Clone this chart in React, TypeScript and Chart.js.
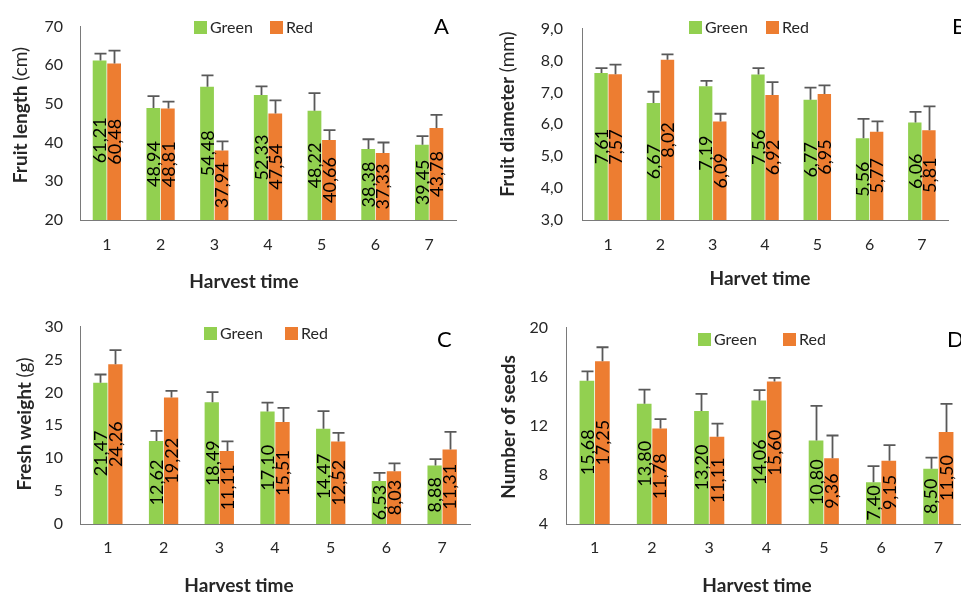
import React, { useEffect, useRef } from "react";
import { Chart, registerables } from "chart.js";

Chart.register(...registerables);

// ---------- data ----------
const harvestTimes = ["1", "2", "3", "4", "5", "6", "7"];
const seriesNames = ["Green", "Red"];

const lengthGreen = [61.21, 48.94, 54.48, 52.33, 48.22, 38.38, 39.45];
const lengthRed = [60.48, 48.81, 37.94, 47.54, 40.66, 37.33, 43.78];
const lengthGreenErr = [1.8, 3.1, 2.9, 2.2, 4.6, 2.5, 2.25];
const lengthRedErr = [3.3, 1.8, 2.4, 3.4, 2.6, 2.7, 3.4];

const diameterGreen = [7.61, 6.67, 7.19, 7.56, 6.77, 5.56, 6.06];
const diameterRed = [7.57, 8.02, 6.09, 6.92, 6.95, 5.77, 5.81];
const diameterGreenErr = [0.15, 0.35, 0.17, 0.2, 0.38, 0.61, 0.33];
const diameterRedErr = [0.3, 0.17, 0.24, 0.4, 0.27, 0.32, 0.75];

const weightGreen = [21.47, 12.62, 18.49, 17.1, 14.47, 6.53, 8.88];
const weightRed = [24.26, 19.22, 11.11, 15.51, 12.52, 8.03, 11.31];
const weightGreenErr = [1.25, 1.53, 1.54, 1.34, 2.67, 1.25, 0.99];
const weightRedErr = [2.15, 1.0, 1.45, 2.13, 1.33, 1.19, 2.69];

const seedsGreen = [15.68, 13.8, 13.2, 14.06, 10.8, 7.4, 8.5];
const seedsRed = [17.25, 11.78, 11.11, 15.6, 9.36, 9.15, 11.5];
const seedsGreenErr = [0.75, 1.14, 1.4, 0.85, 2.83, 1.32, 0.9];
const seedsRedErr = [1.15, 0.77, 1.07, 0.31, 1.85, 1.28, 2.28];

// ---------- style ----------
const FONT = "Lato, 'Open Sans', sans-serif";
const GREEN = "#92D050";
const ORANGE = "#ED7D31";
const ERR = "#595959";
const AXIS = "#7a7a7a";
const TEXT = "#262626";

type Panel = {
  letter: string;
  left: number;
  top: number;
  width: number;
  height: number;
  area: { left: number; right: number; top: number; bottom: number };
  min: number;
  max: number;
  step: number;
  tickDecimals: number;
  green: number[];
  red: number[];
  greenErr: number[];
  redErr: number[];
  yTitleBold: string;
  yTitleRegular: string;
  yTitleX: number;
  yTitleY: number;
  xTitle: string;
  xTitleX: number;
  xTitleY: number;
  xTickPad: number;
  yTickPad: number;
  letterX: number;
  letterY: number;
  legendBoxes: number[];
  legendY: number;
};

const panels: Panel[] = [
  {
    letter: "A", left: 0, top: 0, width: 480, height: 300,
    area: { left: 80, right: 456, top: 25, bottom: 220 },
    min: 20, max: 70, step: 10, tickDecimals: 0,
    green: lengthGreen, red: lengthRed, greenErr: lengthGreenErr, redErr: lengthRedErr,
    yTitleBold: "Fruit length ", yTitleRegular: "(cm)", yTitleX: 21, yTitleY: 115,
    xTitle: "Harvest time", xTitleX: 244, xTitleY: 282,
    xTickPad: 15, yTickPad: 17, letterX: 434, letterY: 27,
    legendBoxes: [194, 270], legendY: 27,
  },
  {
    letter: "B", left: 480, top: 0, width: 481, height: 300,
    area: { left: 102, right: 468, top: 26, bottom: 220 },
    min: 3, max: 9, step: 1, tickDecimals: 1,
    green: diameterGreen, red: diameterRed, greenErr: diameterGreenErr, redErr: diameterRedErr,
    yTitleBold: "Fruit diameter ", yTitleRegular: "(mm)", yTitleX: 28, yTitleY: 114,
    xTitle: "Harvet time", xTitleX: 280, xTitleY: 279,
    xTickPad: 15, yTickPad: 19, letterX: 472, letterY: 27,
    legendBoxes: [209, 286], legendY: 27,
  },
  {
    letter: "C", left: 0, top: 300, width: 480, height: 300,
    area: { left: 80, right: 470, top: 23, bottom: 224 },
    min: 0, max: 30, step: 5, tickDecimals: 0,
    green: weightGreen, red: weightRed, greenErr: weightGreenErr, redErr: weightRedErr,
    yTitleBold: "Fresh weight ", yTitleRegular: "(g)", yTitleX: 25, yTitleY: 124,
    xTitle: "Harvest time", xTitleX: 239, xTitleY: 286,
    xTickPad: 14, yTickPad: 17, letterX: 437, letterY: 40,
    legendBoxes: [204, 285], legendY: 33,
  },
  {
    letter: "D", left: 480, top: 300, width: 500, height: 300,
    area: { left: 86, right: 487, top: 21, bottom: 224 },
    min: 4, max: 20, step: 4, tickDecimals: 0,
    green: seedsGreen, red: seedsRed, greenErr: seedsGreenErr, redErr: seedsRedErr,
    yTitleBold: "Number of seeds", yTitleRegular: "", yTitleX: 29, yTitleY: 127,
    xTitle: "Harvest time", xTitleX: 277, xTitleY: 286,
    xTickPad: 14, yTickPad: 18, letterX: 467, letterY: 40,
    legendBoxes: [218, 303], legendY: 39,
  },
];

const fmt = (v: number, d: number) => v.toFixed(d).replace(".", ",");

function PanelChart({ p }: { p: Panel }) {
  const ref = useRef<HTMLCanvasElement | null>(null);

  useEffect(() => {
    if (!ref.current) return;
    const errs = [p.greenErr, p.redErr];
    const colors = [GREEN, ORANGE];

    const decor = {
      id: "decor" + p.letter,
      afterDatasetsDraw(chart: any) {
        const ctx = chart.ctx as CanvasRenderingContext2D;
        const yScale = chart.scales.y;
        const bottom = chart.chartArea.bottom;
        // error bars
        ctx.save();
        ctx.strokeStyle = ERR;
        ctx.lineWidth = 1.8;
        chart.data.datasets.forEach((ds: any, i: number) => {
          const meta = chart.getDatasetMeta(i);
          meta.data.forEach((el: any, j: number) => {
            const v = ds.data[j];
            const yt = yScale.getPixelForValue(v + errs[i][j]);
            const x = Math.round(el.x) + 0.5;
            ctx.beginPath();
            ctx.moveTo(x, el.y);
            ctx.lineTo(x, yt);
            ctx.moveTo(x - 6, yt);
            ctx.lineTo(x + 6, yt);
            ctx.stroke();
          });
        });
        ctx.restore();
        // data labels
        ctx.save();
        ctx.fillStyle = "#000";
        ctx.font = `18px ${FONT}`;
        ctx.textAlign = "center";
        ctx.textBaseline = "middle";
        chart.data.datasets.forEach((ds: any, i: number) => {
          const meta = chart.getDatasetMeta(i);
          meta.data.forEach((el: any, j: number) => {
            const { x, y, base } = el.getProps(["x", "y", "base"], true);
            const b = Math.min(base, bottom);
            ctx.save();
            ctx.translate(x, (y + b) / 2);
            ctx.rotate(-Math.PI / 2);
            ctx.fillText(fmt(ds.data[j], 2), 0, 1);
            ctx.restore();
          });
        });
        ctx.restore();
      },
      afterDraw(chart: any) {
        const ctx = chart.ctx as CanvasRenderingContext2D;
        ctx.save();
        // y title (bold + regular parts)
        ctx.fillStyle = TEXT;
        ctx.textBaseline = "middle";
        ctx.textAlign = "left";
        const boldFont = `bold 19px ${FONT}`;
        const regFont = `19px ${FONT}`;
        ctx.font = boldFont;
        const wb = ctx.measureText(p.yTitleBold).width;
        ctx.font = regFont;
        const wr = p.yTitleRegular ? ctx.measureText(p.yTitleRegular).width : 0;
        const total = wb + wr;
        ctx.save();
        ctx.translate(p.yTitleX, p.yTitleY);
        ctx.rotate(-Math.PI / 2);
        ctx.font = boldFont;
        ctx.fillText(p.yTitleBold, -total / 2, 0);
        if (p.yTitleRegular) {
          ctx.font = regFont;
          ctx.fillText(p.yTitleRegular, -total / 2 + wb, 0);
        }
        ctx.restore();
        // x title
        ctx.font = boldFont;
        ctx.textAlign = "center";
        ctx.fillText(p.xTitle, p.xTitleX, p.xTitleY);
        // panel letter
        ctx.font = `22px ${FONT}`;
        ctx.textAlign = "left";
        ctx.fillStyle = "#000";
        ctx.fillText(p.letter, p.letterX, p.letterY);
        // legend
        ctx.font = `16px ${FONT}`;
        seriesNames.forEach((name, i) => {
          const bx = p.legendBoxes[i];
          ctx.fillStyle = colors[i];
          ctx.fillRect(bx, p.legendY - 6, 13, 13);
          ctx.fillStyle = TEXT;
          ctx.fillText(name, bx + 16, p.legendY + 1);
        });
        ctx.restore();
      },
    };

    const chart = new Chart(ref.current, {
      type: "bar",
      data: {
        labels: harvestTimes,
        datasets: [
          { label: seriesNames[0], data: p.green, backgroundColor: GREEN, borderWidth: 0, categoryPercentage: 0.54, barPercentage: 0.95 },
          { label: seriesNames[1], data: p.red, backgroundColor: ORANGE, borderWidth: 0, categoryPercentage: 0.54, barPercentage: 0.95 },
        ],
      },
      options: {
        responsive: false,
        maintainAspectRatio: false,
        animation: false,
        events: [],
        layout: {
          padding: { top: p.area.top, right: p.width - p.area.right, bottom: 0, left: 0 },
        },
        plugins: { legend: { display: false }, tooltip: { enabled: false } },
        scales: {
          x: {
            grid: { display: false, drawTicks: false },
            border: { display: true, color: AXIS, width: 1 },
            ticks: { color: TEXT, font: { family: FONT, size: 16 }, padding: p.xTickPad, maxRotation: 0 },
            afterFit: (s: any) => { s.height = p.height - p.area.bottom; },
          },
          y: {
            min: p.min,
            max: p.max,
            grid: { display: false, drawTicks: false },
            border: { display: true, color: AXIS, width: 1 },
            ticks: {
              stepSize: p.step,
              color: TEXT,
              font: { family: FONT, size: 16 },
              padding: p.yTickPad,
              callback: (v: any) => fmt(Number(v), p.tickDecimals),
            },
            afterFit: (s: any) => { s.width = p.area.left; },
          },
        },
      },
      plugins: [decor],
    } as any);

    return () => chart.destroy();
  }, [p]);

  return (
    <canvas
      ref={ref}
      width={p.width}
      height={p.height}
      style={{ position: "absolute", left: p.left, top: p.top, width: p.width, height: p.height }}
    />
  );
}

export default function App() {
  return (
    <div
      style={{
        position: "fixed",
        left: 0,
        top: 0,
        width: 961,
        height: 595,
        overflow: "hidden",
        background: "#fff",
      }}
    >
      {panels.map((p) => (
        <PanelChart key={p.letter} p={p} />
      ))}
    </div>
  );
}
